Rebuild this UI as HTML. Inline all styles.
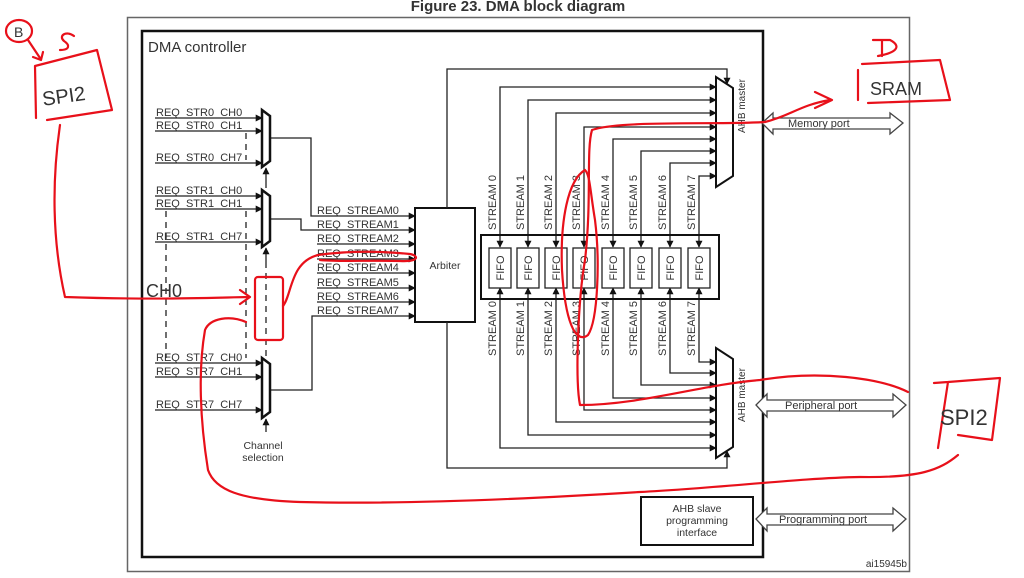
<!DOCTYPE html>
<html><head><meta charset="utf-8"><style>
html,body{margin:0;padding:0;background:#fff;width:1024px;height:578px;overflow:hidden}
svg{display:block}
text{font-family:"Liberation Sans",sans-serif;fill:#333}
</style></head><body>
<svg width="1024" height="578" viewBox="0 0 1024 578" xmlns="http://www.w3.org/2000/svg">
<defs>
<marker id="a" viewBox="0 0 10 10" refX="9" refY="5" markerWidth="7" markerHeight="7" orient="auto-start-reverse" markerUnits="userSpaceOnUse"><path d="M0,0L10,5L0,10z" fill="#111"/></marker>
</defs>
<text x="518" y="11" font-size="15" font-weight="bold" text-anchor="middle" fill="#111">Figure 23. DMA block diagram</text>
<rect x="127.5" y="17.5" width="782" height="554" fill="none" stroke="#666" stroke-width="1.5"/>
<rect x="142" y="31" width="621" height="526" fill="none" stroke="#111" stroke-width="2.5"/>
<text x="148" y="52" font-size="15" fill="#222">DMA controller</text>

<g stroke="#222" stroke-width="1.3" fill="none">
<g marker-end="url(#a)">
<line x1="155" y1="118" x2="262" y2="118"/><line x1="155" y1="131" x2="262" y2="131"/><line x1="155" y1="163" x2="262" y2="163"/>
<line x1="155" y1="196" x2="262" y2="196"/><line x1="155" y1="209" x2="262" y2="209"/><line x1="155" y1="242" x2="262" y2="242"/>
<line x1="155" y1="363" x2="262" y2="363"/><line x1="155" y1="377" x2="262" y2="377"/><line x1="155" y1="410" x2="262" y2="410"/>
<line x1="266" y1="182" x2="266" y2="168"/><line x1="266" y1="262" x2="266" y2="248"/><line x1="266" y1="432" x2="266" y2="419"/>
</g>
<g stroke-dasharray="6,5">
<line x1="266" y1="182" x2="266" y2="190"/><line x1="266" y1="262" x2="266" y2="358"/>
<line x1="246" y1="133" x2="246" y2="160"/><line x1="246" y1="211" x2="246" y2="358"/>
<line x1="166" y1="211" x2="166" y2="358"/>
</g>
<polyline points="270,138 311,138 311,216 415,216" marker-end="url(#a)"/>
<polyline points="270,219 301,219 301,230 415,230" marker-end="url(#a)"/>
<polyline points="270,390 312,390 312,316 415,316" marker-end="url(#a)"/>
<g marker-end="url(#a)">
<line x1="317" y1="244" x2="415" y2="244"/><line x1="317" y1="259" x2="415" y2="259"/>
<line x1="317" y1="273" x2="415" y2="273"/><line x1="317" y1="288" x2="415" y2="288"/>
<line x1="317" y1="302" x2="415" y2="302"/>
</g>
</g>
<g stroke="#111" stroke-width="2.5" fill="#fff">
<polygon points="262,110 270,116 270,161 262,167"/>
<polygon points="262,190 270,196 270,241 262,247"/>
<polygon points="262,358 270,364 270,412 262,418"/>
</g>
<g font-size="11" fill="#3a3a3a">
<text x="156" y="116">REQ_STR0_CH0</text><text x="156" y="129">REQ_STR0_CH1</text><text x="156" y="161">REQ_STR0_CH7</text>
<text x="156" y="194">REQ_STR1_CH0</text><text x="156" y="207">REQ_STR1_CH1</text><text x="156" y="240">REQ_STR1_CH7</text>
<text x="156" y="361">REQ_STR7_CH0</text><text x="156" y="375">REQ_STR7_CH1</text><text x="156" y="408">REQ_STR7_CH7</text>
<text x="317" y="214">REQ_STREAM0</text><text x="317" y="228">REQ_STREAM1</text><text x="317" y="242">REQ_STREAM2</text>
<text x="317" y="257">REQ_STREAM3</text><text x="317" y="271">REQ_STREAM4</text><text x="317" y="286">REQ_STREAM5</text>
<text x="317" y="300">REQ_STREAM6</text><text x="317" y="314">REQ_STREAM7</text>
</g>
<text x="263" y="449" font-size="10.5" text-anchor="middle">Channel</text>
<text x="263" y="461" font-size="10.5" text-anchor="middle">selection</text>

<rect x="415" y="208" width="60" height="114" fill="#fff" stroke="#111" stroke-width="2"/>
<text x="445" y="269" font-size="10.5" text-anchor="middle">Arbiter</text>

<g stroke="#222" stroke-width="1.3" fill="none">
<polyline points="447,208 447,69 727,69 727,84" marker-end="url(#a)"/>
<polyline points="447,322 447,468 727,468 727,451" marker-end="url(#a)"/>
<g marker-start="url(#a)" marker-end="url(#a)">
<polyline points="500,247 500,87 716,87"/><polyline points="528,247 528,100 716,100"/>
<polyline points="556,247 556,113 716,113"/><polyline points="584,247 584,127 716,127"/>
<polyline points="613,247 613,139 716,139"/><polyline points="641,247 641,151 716,151"/>
<polyline points="670,247 670,163 716,163"/><polyline points="699,247 699,176 716,176"/>
<polyline points="500,288 500,448 716,448"/><polyline points="528,288 528,435 716,435"/>
<polyline points="556,288 556,422 716,422"/><polyline points="584,288 584,410 716,410"/>
<polyline points="613,288 613,398 716,398"/><polyline points="641,288 641,385 716,385"/>
<polyline points="670,288 670,373 716,373"/><polyline points="699,288 699,362 716,362"/>
</g>
</g>
<rect x="481" y="235" width="238" height="64" fill="none" stroke="#111" stroke-width="2"/>
<g fill="#fff" stroke="#222" stroke-width="1.3">
<rect x="489" y="248" width="22" height="40"/><rect x="517" y="248" width="22" height="40"/>
<rect x="545" y="248" width="22" height="40"/><rect x="573" y="248" width="22" height="40"/>
<rect x="602" y="248" width="22" height="40"/><rect x="630" y="248" width="22" height="40"/>
<rect x="659" y="248" width="22" height="40"/><rect x="688" y="248" width="22" height="40"/>
</g>
<g font-size="11">
<text transform="translate(504,268) rotate(-90)" text-anchor="middle">FIFO</text>
<text transform="translate(532,268) rotate(-90)" text-anchor="middle">FIFO</text>
<text transform="translate(560,268) rotate(-90)" text-anchor="middle">FIFO</text>
<text transform="translate(588,268) rotate(-90)" text-anchor="middle">FIFO</text>
<text transform="translate(617,268) rotate(-90)" text-anchor="middle">FIFO</text>
<text transform="translate(645,268) rotate(-90)" text-anchor="middle">FIFO</text>
<text transform="translate(674,268) rotate(-90)" text-anchor="middle">FIFO</text>
<text transform="translate(703,268) rotate(-90)" text-anchor="middle">FIFO</text>
<text transform="translate(496,230) rotate(-90)">STREAM 0</text>
<text transform="translate(524,230) rotate(-90)">STREAM 1</text>
<text transform="translate(552,230) rotate(-90)">STREAM 2</text>
<text transform="translate(580,230) rotate(-90)">STREAM 3</text>
<text transform="translate(609,230) rotate(-90)">STREAM 4</text>
<text transform="translate(637,230) rotate(-90)">STREAM 5</text>
<text transform="translate(666,230) rotate(-90)">STREAM 6</text>
<text transform="translate(695,230) rotate(-90)">STREAM 7</text>
<text transform="translate(496,356) rotate(-90)">STREAM 0</text>
<text transform="translate(524,356) rotate(-90)">STREAM 1</text>
<text transform="translate(552,356) rotate(-90)">STREAM 2</text>
<text transform="translate(580,356) rotate(-90)">STREAM 3</text>
<text transform="translate(609,356) rotate(-90)">STREAM 4</text>
<text transform="translate(637,356) rotate(-90)">STREAM 5</text>
<text transform="translate(666,356) rotate(-90)">STREAM 6</text>
<text transform="translate(695,356) rotate(-90)">STREAM 7</text>
<text transform="translate(745,133) rotate(-90)" font-size="10">AHB master</text>
<text transform="translate(745,422) rotate(-90)" font-size="10">AHB master</text>
</g>
<g stroke="#111" stroke-width="2" fill="#fff">
<polygon points="716,77 733,88 733,176 716,187"/>
<polygon points="716,348 733,359 733,447 716,458"/>
</g>
<g fill="#fff" stroke="#444" stroke-width="1.3">
<polygon points="762,123 773,113 773,118 890,118 890,113 903,123 890,134 890,129 773,129 773,134"/>
<polygon points="756,405 767,394 767,400 893,400 893,394 906,405 893,417 893,411 767,411 767,417"/>
<polygon points="756,519 767,508 767,514 893,514 893,508 906,519 893,531 893,525 767,525 767,531"/>
</g>
<text x="788" y="127" font-size="11">Memory port</text>
<text x="785" y="409" font-size="11">Peripheral port</text>
<text x="779" y="523" font-size="11">Programming port</text>
<rect x="641" y="497" width="112" height="48" fill="#fff" stroke="#111" stroke-width="2"/>
<text x="697" y="512" font-size="10.5" text-anchor="middle">AHB slave</text>
<text x="697" y="524" font-size="10.5" text-anchor="middle">programming</text>
<text x="697" y="536" font-size="10.5" text-anchor="middle">interface</text>
<text x="907" y="567" font-size="10" text-anchor="end">ai15945b</text>

<g stroke="#e8101a" stroke-width="2.2" fill="none" stroke-linecap="round" stroke-linejoin="round">
<ellipse cx="19" cy="31" rx="13" ry="11"/>
<path d="M28,40 L40,58 M33,57 L41,60 L43,52"/>
<path d="M35,66 L97,50 L112,110 L47,120 M35,66 L36,118"/>
<path d="M60,125 C52,180 52,240 65,297 C150,300 200,298 248,297 M240,290 L250,297 L240,304"/>
<rect x="255" y="277" width="28" height="63" rx="3"/>
<path d="M283,306 C292,295 290,262 318,255 C340,252 370,250 410,254 C420,256 418,262 400,261 C370,260 340,262 320,260"/>
<path d="M246,322 C230,315 210,318 205,330 C198,370 200,420 208,470 C215,490 240,500 300,502 C420,505 560,497 640,492 C720,488 800,478 860,477 C920,478 940,470 958,455"/>
<path d="M934,383 L948,382 L1000,378 L992,440 L958,435 M948,382 L938,448"/>
<path d="M908,392 C880,378 820,370 760,380 C700,385 640,405 580,405 C575,380 578,300 585,260 C592,200 586,150 592,130 C620,120 720,125 765,122 C790,116 800,105 830,100 M815,92 L832,100 L815,108"/>
<path d="M585,170 C568,180 560,220 562,270 C565,320 575,345 588,335 C598,320 600,260 595,220 C590,190 590,175 585,170"/>
<path d="M862,64 L940,60 L950,100 L868,103 M858,70 L858,100"/>
<path d="M873,40 L890,40 C900,45 900,52 878,56 M882,40 L882,56"/>
<path d="M74,36 C66,30 58,36 64,41 C70,45 70,50 60,50"/>
</g>
<g font-family="Liberation Sans,sans-serif">
<text x="14" y="37" font-size="14" fill="#e8101a">B</text>
<text x="42" y="102" font-size="20" fill="#e8101a" transform="rotate(-8 70 95)">SPI2</text>
<text x="870" y="95" font-size="18" fill="#e8101a">SRAM</text>
<text x="940" y="425" font-size="22" fill="#e8101a">SPI2</text>
<text x="146" y="297" font-size="18" fill="#e8101a">CH0</text>
</g>
</svg>
</body></html>
